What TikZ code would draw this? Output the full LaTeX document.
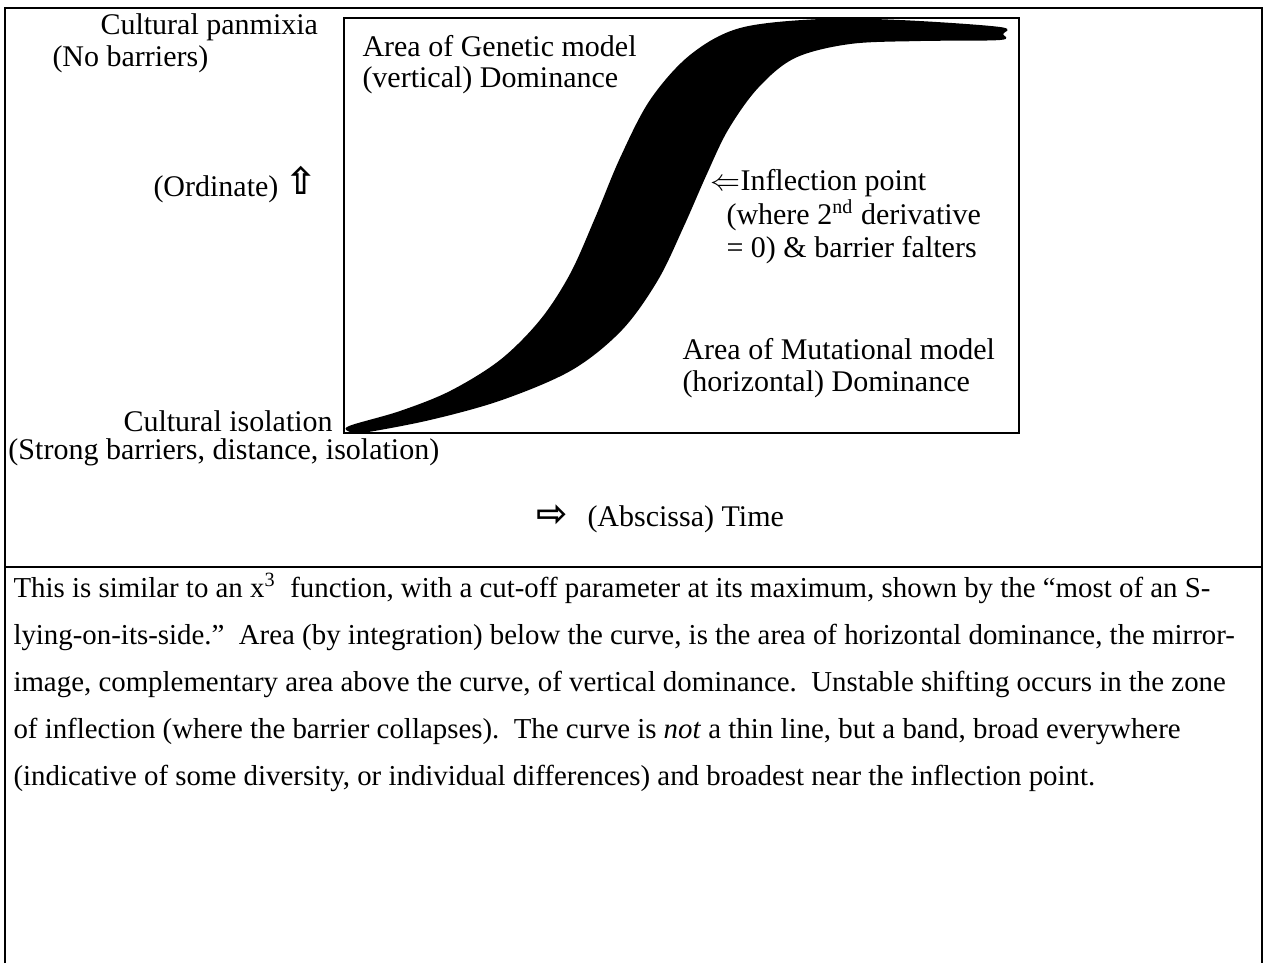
\documentclass[tikz,border=0pt]{standalone}
\usepackage{fontspec}
\setmainfont{Liberation Serif}
\newfontfamily\arrowfont{DejaVu Sans}
\tikzset{
  lbl/.style={anchor=base west, inner sep=0pt},
  para/.style={lbl, font=\fontsize{11.55}{14}\selectfont},
  bigarrow/.style={lbl, font=\fontsize{15}{15}\arrowfont\bfseries},
  frame/.style={line width=0.8pt},
}
\begin{document}
\begin{tikzpicture}[x=0.4pt, y=-0.4pt, font=\fontsize{12}{14}\selectfont]
\useasboundingbox (0,0) rectangle (1266,963);
% table frame
\coordinate (F_bl) at (5,963);
\coordinate (F_tl) at (5,8);
\coordinate (F_tr) at (1262,8);
\coordinate (F_br) at (1262,963);
\coordinate (F_ml) at (5,567);
\coordinate (F_mr) at (1262,567);
\draw[frame] (F_bl) -- (F_tl) -- (F_tr) -- (F_br);
\draw[frame] (F_ml) -- (F_mr);
% graph box
\coordinate (B_nw) at (344,18);
\coordinate (B_se) at (1019,433);
\draw[frame] (B_nw) rectangle (B_se);
% the band
\fill plot[smooth cycle, tension=0.55] coordinates {
  (349,426) (400,411) (450,391) (500,360) (540,320) (570,274) (595,218)
  (620,158) (650,100) (690,55) (740,28) (820,19) (900,20) (1000,27)
  (1003,34) (1000,40) (920,41) (850,44) (795,58) (758,88) (728,130)
  (706,176) (684,226) (658,280) (622,330) (572,370) (502,400) (430,420)
  (362,433) (350,432)};
% labels left of the box
\node[lbl] (L_panmixia) at (100,34) {Cultural panmixia};
\node[lbl] (L_nobarriers) at (52,66) {(No barriers)};
\node[lbl] (L_ordinate) at (153,196) {(Ordinate)};
\node[bigarrow] (L_uparrow) at (285,194) {⇧};
\node[lbl] (L_isolation) at (123,431) {Cultural isolation};
\node[lbl] (L_strong) at (8,459) {(Strong barriers, distance, isolation)};
% labels in the box
\node[lbl] (A_genetic) at (362,56) {Area of Genetic model};
\node[lbl] (A_vertical) at (362,87) {(vertical) Dominance};
\node[lbl] (I_point) at (710,190) {$\Leftarrow$Inflection point};
\node[lbl] (I_where) at (726,224) {(where 2\textsuperscript{nd} derivative};
\node[lbl] (I_falters) at (726,257) {= 0) \& barrier falters};
\node[lbl] (A_mutational) at (682,359) {Area of Mutational model};
\node[lbl] (A_horizontal) at (682,391) {(horizontal) Dominance};
% abscissa
\node[bigarrow] (X_arrow) at (536,526) {⇨};
\node[lbl] (X_time) at (587,526) {(Abscissa) Time};
% text below
\node[para] (T_1) at (13,597) {This is similar to an x\textsuperscript{3}\ \ function, with a cut-off parameter at its maximum, shown by the ``most of an S-};
\node[para] (T_2) at (13,644) {lying-on-its-side.''\ \ Area (by integration) below the curve, is the area of horizontal dominance, the mirror-};
\node[para] (T_3) at (13,691) {image, complementary area above the curve, of vertical dominance.\ \ Unstable shifting occurs in the zone};
\node[para] (T_4) at (13,738) {of inflection (where the barrier collapses).\ \ The curve is \textit{not} a thin line, but a band, broad everywhere};
\node[para] (T_5) at (13,785) {(indicative of some diversity, or individual differences) and broadest near the inflection point.};
\end{tikzpicture}
\end{document}
